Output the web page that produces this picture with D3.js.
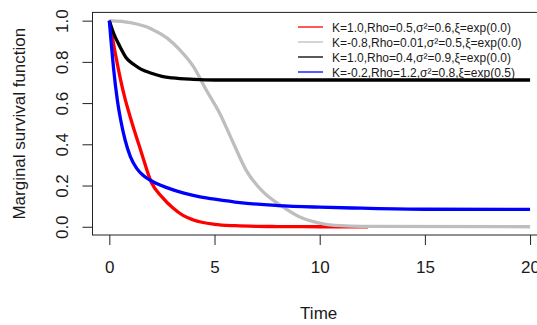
<!DOCTYPE html>
<html>
<head>
<meta charset="utf-8">
<script src="https://cdn.jsdelivr.net/npm/d3@7"></script>
<style>
  body { margin: 0; background: #fff; }
  svg { display: block; font-family: "Liberation Sans", Arial, sans-serif; }
</style>
</head>
<body>
<div id="chart"></div>
<script>
const WIDTH = 537;
const HEIGHT = 325;

// values
const redT   = [0, 0.25, 0.5, 0.75, 1, 1.5, 2, 2.5, 3, 3.5, 4, 5, 6, 7, 8, 10, 12.3];
const redS   = [1, 0.86, 0.73, 0.62, 0.53, 0.368, 0.215, 0.145, 0.093, 0.055, 0.033, 0.012, 0.005, 0.002, 0.001, 0, 0];

const grayT  = [0, 1, 2, 2.75, 3.35, 4, 4.6, 5.25, 5.9, 6.5, 7.3, 8.2, 9, 10, 11, 12, 20];
const grayS  = [1, 0.99, 0.96, 0.915, 0.858, 0.777, 0.665, 0.55, 0.405, 0.275, 0.17, 0.1, 0.05, 0.018, 0.005, 0.002, 0];

const blackT = [0, 0.2, 0.5, 0.8, 1.2, 1.5, 2, 2.5, 3, 4, 5, 20];
const blackS = [1, 0.94, 0.875, 0.82, 0.785, 0.765, 0.745, 0.73, 0.722, 0.715, 0.712, 0.712];

const blueT  = [0, 0.1, 0.2, 0.38, 0.54, 0.75, 1, 1.3, 1.6, 1.93, 2.3, 2.73, 3.5, 4.2, 5, 6.2, 8, 10, 12, 15, 20];
const blueS  = [1, 0.88, 0.77, 0.615, 0.518, 0.421, 0.34, 0.283, 0.25, 0.227, 0.207, 0.19, 0.164, 0.147, 0.134, 0.117, 0.103, 0.095, 0.09, 0.085, 0.084];

const labels = [
  'K=1.0,Rho=0.5,σ²=0.6,ξ=exp(0.0)',
  'K=-0.8,Rho=0.01,σ²=0.5,ξ=exp(0.0)',
  'K=1.0,Rho=0.4,σ²=0.9,ξ=exp(0.0)',
  'K=-0.2,Rho=1.2,σ²=0.8,ξ=exp(0.5)'
];
const colors = ['#ff0000', '#bebebe', '#000000', '#0000ff'];

const xTicks = [0, 5, 10, 15, 20];
const yTicks = [0, 0.2, 0.4, 0.6, 0.8, 1.0];

const series = [
  { t: redT, s: redS },
  { t: grayT, s: grayS },
  { t: blackT, s: blackS },
  { t: blueT, s: blueS }
];

const svg = d3.select('#chart').append('svg')
  .attr('width', WIDTH)
  .attr('height', HEIGHT);

const x = d3.scaleLinear().domain([-0.8, 20.8]).range([92.5, 546.9]);
const y = d3.scaleLinear().domain([-0.04, 1.04]).range([235, 12.4]);

const line = d3.line()
  .curve(d3.curveMonotoneX)
  .x(d => x(d[0]))
  .y(d => y(d[1]));

// curves
const curves = svg.append('g').attr('id', 'curves');
series.forEach((sr, i) => {
  curves.append('path')
    .datum(sr.t.map((t, j) => [t, sr.s[j]]))
    .attr('d', line)
    .attr('fill', 'none')
    .attr('stroke', colors[i])
    .attr('stroke-width', 3.3)
    .attr('stroke-linejoin', 'round');
});

// box
svg.append('rect')
  .attr('x', x(-0.8))
  .attr('y', y(1.04))
  .attr('width', x(20.8) - x(-0.8))
  .attr('height', y(-0.04) - y(1.04))
  .attr('fill', 'none')
  .attr('stroke', '#222')
  .attr('stroke-width', 1);

// axes
const xAxis = svg.append('g')
  .attr('transform', `translate(0, ${y(-0.04)})`)
  .call(d3.axisBottom(x).tickValues(xTicks).tickSize(10).tickPadding(16).tickSizeOuter(0));

const yAxis = svg.append('g')
  .attr('transform', `translate(${x(-0.8)}, 0)`)
  .call(d3.axisLeft(y).tickValues(yTicks).tickSize(10).tickFormat(d3.format('.1f')).tickSizeOuter(0));

[xAxis, yAxis].forEach(a => {
  a.select('.domain').remove();
  a.selectAll('line').attr('stroke', '#222');
  a.selectAll('text')
    .attr('fill', '#1a1a1a')
    .style('font-size', '17px')
    .style('font-family', '"Liberation Sans", Arial, sans-serif');
});

yAxis.selectAll('text')
  .attr('x', null)
  .attr('dy', null)
  .attr('text-anchor', 'middle')
  .attr('transform', 'translate(-25, 0) rotate(-90)');

xAxis.selectAll('text').attr('dy', '0.71em');

// axis titles
svg.append('text')
  .attr('x', (x(-0.8) + x(20.8)) / 2 - 1)
  .attr('y', 319)
  .attr('text-anchor', 'middle')
  .attr('fill', '#1a1a1a')
  .style('font-size', '17px')
  .text('Time');

svg.append('text')
  .attr('transform', `translate(25, ${(y(-0.04) + y(1.04)) / 2}) rotate(-90)`)
  .attr('text-anchor', 'middle')
  .attr('fill', '#1a1a1a')
  .style('font-size', '17px')
  .text('Marginal survival function');

// legend
const legend = svg.append('g').attr('id', 'legend');
labels.forEach((lab, i) => {
  const ly = 27.5 + i * 15;
  legend.append('line')
    .attr('x1', 298).attr('x2', 323)
    .attr('y1', ly - 0.5).attr('y2', ly - 0.5)
    .attr('stroke', colors[i])
    .attr('stroke-width', 1.3);
  legend.append('text')
    .attr('x', 332)
    .attr('y', ly)
    .attr('dy', '0.35em')
    .attr('fill', '#1a1a1a')
    .style('font-size', '12px')
    .text(lab);
});
</script>
</body>
</html>
